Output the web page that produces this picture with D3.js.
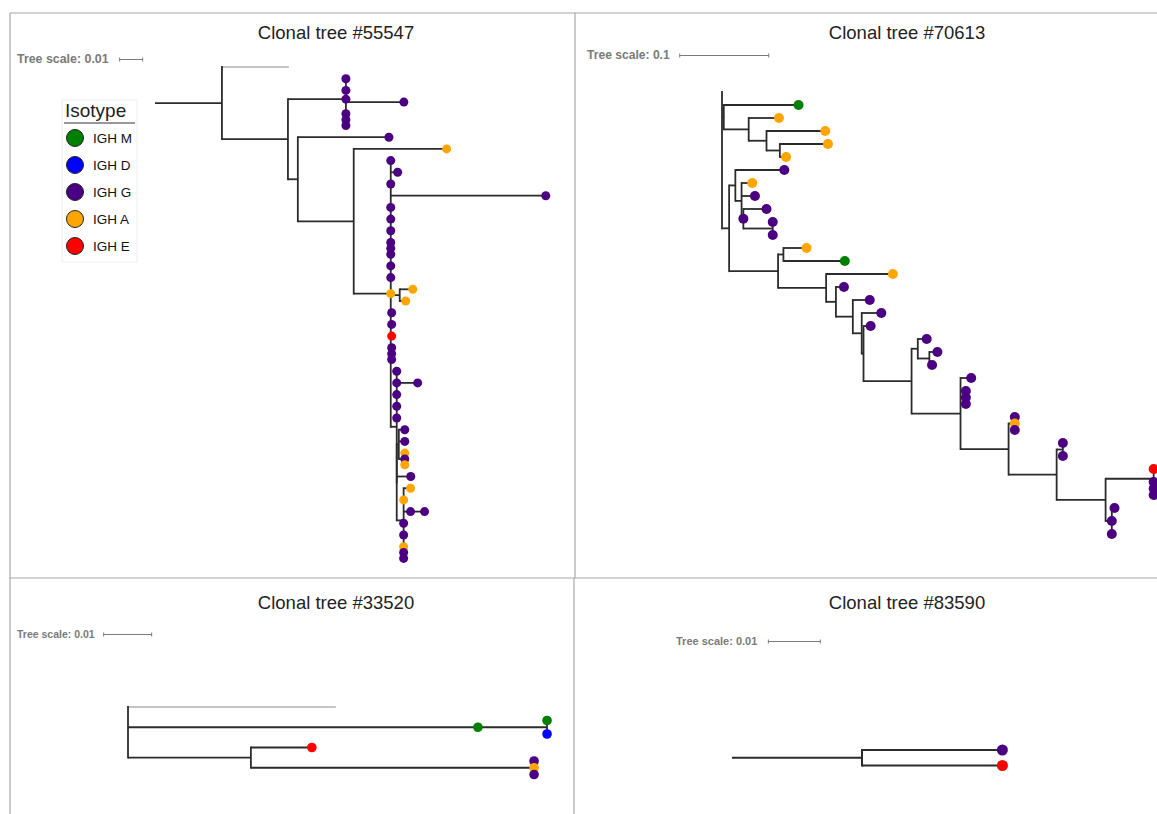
<!DOCTYPE html>
<html>
<head>
<meta charset="utf-8">
<script src="https://d3js.org/d3.v7.min.js"></script>
<style>
  body { margin: 0; background: #fff; }
  svg { display: block; font-family: "Liberation Sans", Arial, Helvetica, sans-serif; }
</style>
</head>
<body>
<svg id="chart" width="1157" height="814"></svg>
<script>
// isotype legend
var isotypeCodes  = ["M", "D", "G", "A", "E"];
var isotypeLabels = ["IGH M", "IGH D", "IGH G", "IGH A", "IGH E"];
var isotypeColors = ["#008000", "#0000ff", "#4b0082", "#ffa500", "#ff0000"];

var treeTitles      = ["Clonal tree #55547", "Clonal tree #70613", "Clonal tree #33520", "Clonal tree #83590"];
var treeScaleValues = [0.01, 0.1, 0.01, 0.01];

// [node, parent, branch length, isotypes at the node]
var tree55547 = [
  ["root", null, 0, ""],
  ["a", "root", 0.0291, ""],
  ["germline", "a", 0.0291, ""],
  ["b", "a", 0.0287, ""],
  ["c", "b", 0.0252, "G"],
  ["s1", "c", 0, "G"],
  ["s2", "c", 0, "G"],
  ["s3", "c", 0.0252, "G"],
  ["s4", "c", 0, "GGG"],
  ["d", "b", 0.0043, ""],
  ["s5", "d", 0.0396, "G"],
  ["e", "d", 0.0243, ""],
  ["s6", "e", 0.0404, "A"],
  ["f", "e", 0.0161, "A"],
  ["s7", "f", 0, "G"],
  ["s8", "f", 0.003, "G"],
  ["s9", "f", 0, "G"],
  ["s10", "f", 0.0674, "G"],
  ["s11", "f", 0, "G"],
  ["s12", "f", 0, "G"],
  ["s13", "f", 0, "G"],
  ["s14", "f", 0, "GGG"],
  ["s15", "f", 0, "G"],
  ["s16", "f", 0, "G"],
  ["f2", "f", 0.0039, ""],
  ["s17", "f2", 0.0057, "A"],
  ["s18", "f2", 0.0026, "A"],
  ["s19", "f", 0.0004, "G"],
  ["s20", "f", 0.0004, "G"],
  ["s21", "f", 0.0004, "E"],
  ["s22", "f", 0.0004, "GGG"],
  ["g", "f", 0.0026, ""],
  ["s23", "g", 0, "G"],
  ["g1", "g", 0, "G"],
  ["s24", "g1", 0.0091, "G"],
  ["s25", "g", 0, "G"],
  ["s26", "g", 0, "G"],
  ["s27", "g", 0, "G"],
  ["g2", "g", 0, ""],
  ["h", "g2", 0.0009, ""],
  ["s28", "h", 0.0026, "G"],
  ["s29", "h", 0.0026, "G"],
  ["s30", "h", 0.0026, "AGA"],
  ["s31", "g2", 0.0061, "G"],
  ["i", "g2", 0.003, ""],
  ["s32", "i", 0.003, "A"],
  ["s33", "i", 0, "A"],
  ["i1", "i", 0.003, "G"],
  ["s34", "i1", 0.0061, "G"],
  ["s35", "i", 0, "G"],
  ["s36", "i", 0, "G"],
  ["s37", "i", 0, "AGG"]
];

var tree70613 = [
  ["r", null, 0, ""],
  ["germline", "r", 0, ""],
  ["a", "r", 0.002, ""],
  ["s1", "a", 0.084, "M"],
  ["a2", "a", 0.028, ""],
  ["s2", "a2", 0.034, "A"],
  ["a3", "a2", 0.020, ""],
  ["s3", "a3", 0.066, "A"],
  ["a4", "a3", 0.015, ""],
  ["s4", "a4", 0.054, "A"],
  ["s5", "a4", 0.007, "A"],
  ["b", "r", 0.008, ""],
  ["c", "b", 0.007, ""],
  ["s6", "c", 0.055, "G"],
  ["d", "c", 0.007, ""],
  ["s7", "d", 0.012, "A"],
  ["s8", "d", 0.015, "G"],
  ["e", "d", 0.002, "G"],
  ["s9", "e", 0.026, "G"],
  ["f", "e", 0.033, ""],
  ["s10", "f", 0, "G"],
  ["s11", "f", 0, "G"],
  ["g", "b", 0.055, ""],
  ["h", "g", 0.006, ""],
  ["s12", "h", 0.026, "A"],
  ["s13", "h", 0.069, "M"],
  ["i", "g", 0.054, ""],
  ["s14", "i", 0.075, "A"],
  ["j", "i", 0.011, ""],
  ["s15", "j", 0.009, "G"],
  ["k", "j", 0.019, ""],
  ["s16", "k", 0.019, "G"],
  ["l", "k", 0.010, ""],
  ["s17", "l", 0.022, "G"],
  ["m", "l", 0.002, ""],
  ["s18", "m", 0.008, "G"],
  ["o", "m", 0.054, ""],
  ["p", "o", 0.007, ""],
  ["s19", "p", 0.010, "G"],
  ["q", "p", 0.013, ""],
  ["s20", "q", 0.009, "G"],
  ["s21", "q", 0.003, "G"],
  ["r2", "o", 0.055, ""],
  ["s22", "r2", 0.012, "G"],
  ["s23", "r2", 0.006, "GGG"],
  ["t", "r2", 0.054, ""],
  ["s24", "t", 0.007, "GAG"],
  ["v", "t", 0.054, ""],
  ["w", "v", 0.007, ""],
  ["s25", "w", 0, "G"],
  ["s26", "w", 0, "G"],
  ["x", "v", 0.055, ""],
  ["y", "x", 0.054, ""],
  ["s27", "y", 0, "E"],
  ["s28", "y", 0, "GGG"],
  ["z", "x", 0.007, ""],
  ["s29", "z", 0.003, "G"],
  ["s30", "z", 0, "G"],
  ["s31", "z", 0, "G"]
];

var tree33520 = [
  ["root", null, 0, ""],
  ["germline", "root", 0.0433, ""],
  ["n1", "root", 0.0729, "M"],
  ["n2", "n1", 0.0144, ""],
  ["s1", "n2", 0, "M"],
  ["s2", "n2", 0, "D"],
  ["n3", "root", 0.0256, ""],
  ["s3", "n3", 0.0127, "E"],
  ["s4", "n3", 0.059, "GAG"]
];

var tree83590 = [
  ["root", null, 0, ""],
  ["n1", "root", 0.025, ""],
  ["s1", "n1", 0.027, "G"],
  ["s2", "n1", 0.027, "E"]
];

var trees = [tree55547, tree70613, tree33520, tree83590];

// where each panel sits on the page
var layout = [
  {titleX: 336, titleY: 39, scaleX: 17, scaleY: 63, scaleFont: 12.4, gap: 11, rootX: 155, firstY: 67, pxPerUnit: 2300, slot: 11.7, r: 4.5, lw: 1.8},
  {titleX: 907, titleY: 39, scaleX: 587, scaleY: 59, scaleFont: 12.1, gap: 10, rootX: 722, firstY: 92, pxPerUnit: 890, slot: 13, r: 5, lw: 1.8},
  {titleX: 336, titleY: 609, scaleX: 17, scaleY: 638, scaleFont: 10.5, gap: 9, rootX: 128, firstY: 707, pxPerUnit: 4800, slot: 13.5, r: 4.8, lw: 1.8},
  {titleX: 907, titleY: 609, scaleX: 676, scaleY: 645, scaleFont: 11, gap: 11, rootX: 732, firstY: 750, pxPerUnit: 5200, slot: 15.5, r: 5.5, lw: 2}
];

var color = d3.scaleOrdinal().domain(isotypeCodes).range(isotypeColors);
var svg = d3.select("#chart");

// frame lines
var frame = svg.append("g").attr("stroke", "#a8a8a8").attr("stroke-width", 1.2);
frame.append("line").attr("x1", 10).attr("x2", 1157).attr("y1", 13).attr("y2", 13);
frame.append("line").attr("x1", 10).attr("x2", 10).attr("y1", 13).attr("y2", 814);
frame.append("line").attr("x1", 10).attr("x2", 1157).attr("y1", 578).attr("y2", 578);
frame.append("line").attr("x1", 575).attr("x2", 575).attr("y1", 13).attr("y2", 578);
frame.append("line").attr("x1", 574).attr("x2", 574).attr("y1", 578).attr("y2", 814);

function drawTree(rows, opt, title, scaleValue) {
  var root = d3.stratify()
      .id(function(d) { return d[0]; })
      .parentId(function(d) { return d[1]; })(rows);

  root.eachBefore(function(n) {
    n.dist = n.parent ? n.parent.dist + n.data[2] : 0;
  });

  // leaves take a row each, stacked circles take half a row more per circle
  var cursor = 0;
  root.leaves().forEach(function(n) {
    var k = Math.max(1, n.data[3].length);
    var h = 1 + (k - 1) * 0.5;
    n.slot = cursor + (h - 1) / 2;
    cursor += h;
  });
  root.eachAfter(function(n) {
    if (n.children) {
      n.slot = (n.children[0].slot + n.children[n.children.length - 1].slot) / 2;
    }
  });

  var x = d3.scaleLinear().domain([0, 1]).range([opt.rootX, opt.rootX + opt.pxPerUnit]);
  var y = d3.scaleLinear().domain([0, 1]).range([opt.firstY, opt.firstY + opt.slot]);

  var g = svg.append("g");

  g.append("text")
    .attr("x", opt.titleX).attr("y", opt.titleY)
    .attr("text-anchor", "middle")
    .attr("font-size", 18.5).attr("fill", "#222")
    .text(title);

  var st = g.append("text")
    .attr("x", opt.scaleX).attr("y", opt.scaleY)
    .attr("font-size", opt.scaleFont).attr("font-weight", "bold").attr("fill", "#7a7a7a")
    .text("Tree scale: " + scaleValue);
  var bx = opt.scaleX + st.node().getComputedTextLength() + opt.gap;
  var bw = x(scaleValue) - x(0);
  var by = opt.scaleY - 3.5;
  var bar = g.append("g").attr("stroke", "#7a7a7a").attr("stroke-width", 1);
  bar.append("line").attr("x1", bx).attr("x2", bx + bw).attr("y1", by).attr("y2", by);
  bar.append("line").attr("x1", bx).attr("x2", bx).attr("y1", by - 2).attr("y2", by + 2);
  bar.append("line").attr("x1", bx + bw).attr("x2", bx + bw).attr("y1", by - 2).attr("y2", by + 2);

  var nodes = root.descendants();

  // horizontal branches
  g.selectAll("path.branch")
    .data(nodes.filter(function(n) { return n.parent; }))
    .enter().append("path")
      .attr("class", "branch")
      .attr("fill", "none")
      .attr("stroke", function(n) { return n.id === "germline" ? "#c4c4c4" : "#2b2b2b"; })
      .attr("stroke-width", opt.lw)
      .attr("d", function(n) {
        return "M" + x(n.parent.dist) + "," + y(n.slot) + "H" + x(n.dist);
      });

  // vertical connectors
  g.selectAll("path.conn")
    .data(nodes.filter(function(n) { return n.children && n.children.length > 1; }))
    .enter().append("path")
      .attr("class", "conn")
      .attr("fill", "none")
      .attr("stroke", "#2b2b2b")
      .attr("stroke-width", opt.lw)
      .attr("d", function(n) {
        var c = n.children;
        return "M" + x(n.dist) + "," + (y(c[0].slot) - opt.lw / 2) + "V" + (y(c[c.length - 1].slot) + opt.lw / 2);
      });

  // isotype circles
  var dots = [];
  nodes.forEach(function(n) {
    var iso = n.data[3];
    for (var k = 0; k < iso.length; k++) {
      dots.push({x: x(n.dist), y: y(n.slot + (k - (iso.length - 1) / 2) * 0.5), iso: iso[k]});
    }
  });
  g.selectAll("circle")
    .data(dots)
    .enter().append("circle")
      .attr("cx", function(d) { return d.x; })
      .attr("cy", function(d) { return d.y; })
      .attr("r", opt.r)
      .attr("fill", function(d) { return color(d.iso); });
}

trees.forEach(function(t, i) {
  drawTree(t, layout[i], treeTitles[i], treeScaleValues[i]);
});

// legend
var legend = svg.append("g");
legend.append("rect")
  .attr("x", 62).attr("y", 100).attr("width", 75).attr("height", 162)
  .attr("fill", "#fff").attr("stroke", "#eeeeee");
legend.append("text")
  .attr("x", 65).attr("y", 117)
  .attr("font-size", 19).attr("fill", "#222")
  .text("Isotype");
legend.append("line")
  .attr("x1", 64).attr("x2", 135).attr("y1", 123).attr("y2", 123)
  .attr("stroke", "#333").attr("stroke-width", 1);

var items = legend.selectAll("g.item")
  .data(isotypeLabels)
  .enter().append("g")
    .attr("class", "item")
    .attr("transform", function(d, i) { return "translate(0," + (138 + i * 27) + ")"; });
items.append("circle")
  .attr("cx", 75).attr("cy", 0).attr("r", 8.5)
  .attr("fill", function(d, i) { return isotypeColors[i]; })
  .attr("stroke", "#222").attr("stroke-width", 1);
items.append("text")
  .attr("x", 93).attr("y", 5)
  .attr("font-size", 13.5).attr("fill", "#111")
  .text(function(d) { return d; });
</script>
</body>
</html>
